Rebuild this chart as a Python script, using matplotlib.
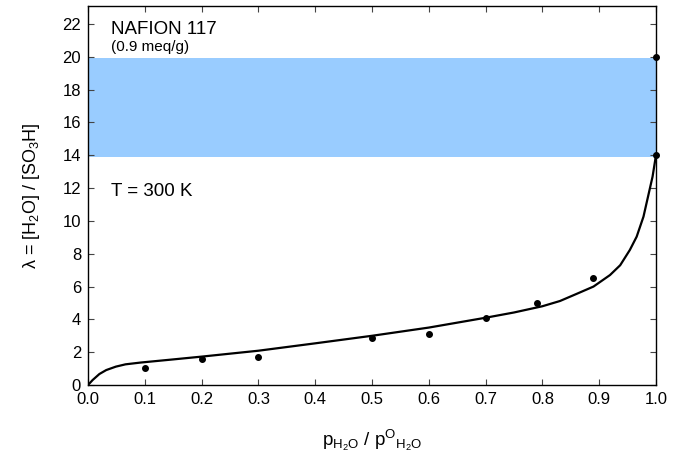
import matplotlib
import matplotlib.pyplot as plt

matplotlib.use("Agg", force=True)

plt.rcParams["font.family"] = ["Liberation Sans", "DejaVu Sans"]
plt.rcParams["mathtext.fontset"] = "custom"
plt.rcParams["mathtext.rm"] = "Liberation Sans"
plt.rcParams["mathtext.it"] = "Liberation Sans:italic"
plt.rcParams["mathtext.bf"] = "Liberation Sans:bold"

# measured points (activity, lambda)
meas_a = [0.1, 0.2, 0.3, 0.5, 0.6, 0.7, 0.79, 0.89, 1.0, 1.0]
meas_lam = [1.06, 1.57, 1.73, 2.85, 3.13, 4.1, 5.02, 6.54, 14.0, 20.0]

# fitted isotherm
fit_a = [0.0, 0.008, 0.02, 0.032, 0.049, 0.066, 0.093, 0.15, 0.2, 0.3,
         0.4, 0.5, 0.6, 0.7, 0.75, 0.8, 0.831, 0.86, 0.89, 0.919, 0.937,
         0.954, 0.966, 0.978, 0.986, 0.994, 1.0]
fit_lam = [0.0, 0.3, 0.67, 0.91, 1.12, 1.26, 1.37, 1.56, 1.73, 2.09,
           2.54, 3.0, 3.5, 4.1, 4.42, 4.8, 5.12, 5.55, 6.0, 6.7, 7.3,
           8.23, 9.04, 10.26, 11.48, 12.7, 14.0]

band_lo, band_hi = 13.9, 19.9

fig = plt.figure(figsize=(6.73, 4.59), dpi=100)
ax = fig.add_axes((0.1308, 0.1612, 0.8439, 0.8258))

ax.axhspan(band_lo, band_hi, color="#99CCFF", lw=0, zorder=0)
ax.plot(fit_a, fit_lam, color="black", lw=1.6, zorder=2,
        solid_joinstyle="round")
ax.plot(meas_a, meas_lam, "o", color="black", ms=4, zorder=3, clip_on=False)

ax.set_xlim(0, 1.0)
ax.set_ylim(0, 23.1)
ax.set_xticks([i / 10 for i in range(11)])
ax.set_xticklabels([f"{i / 10:.1f}" for i in range(11)])
ax.set_yticks(range(0, 23, 2))

ax.tick_params(direction="in", top=True, right=True, length=4, width=0.8,
               color="#444444", labelsize=12, pad=5)
for s in ax.spines.values():
    s.set_linewidth(1.0)

ax.text(0.04, 21.4, "NAFION 117", fontsize=13.5)
ax.text(0.04, 20.35, "(0.9 meq/g)", fontsize=11)
ax.text(0.04, 11.5, "T = 300 K", fontsize=13.5)

ax.set_xlabel(r"p$_{\mathrm{H_2O}}$ / p$^{\mathrm{O}}$$_{\mathrm{H_2O}}$",
              fontsize=13.5, labelpad=15)
ax.set_ylabel("λ = [H$_2$O] / [SO$_3$H]", fontsize=13, labelpad=15)

fig.savefig("out.png", dpi=100)
